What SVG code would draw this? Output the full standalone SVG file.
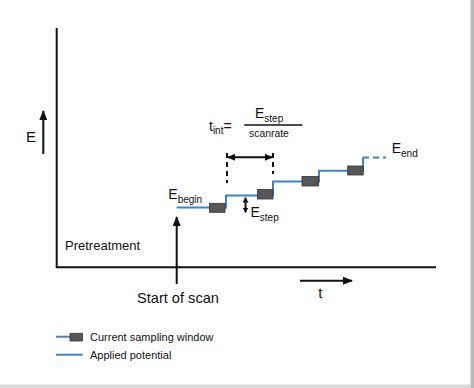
<svg xmlns="http://www.w3.org/2000/svg" width="474" height="388" viewBox="0 0 474 388">
<style>
text{font-family:"Liberation Sans",Arial,sans-serif;fill:#111}
.ax{stroke:#111;stroke-width:2;fill:none}
.blue{stroke:#3a86c8;stroke-width:2;fill:none}
.win{fill:#575757;stroke:#333;stroke-width:0.8}
.dash{stroke:#111;stroke-width:2;stroke-dasharray:5,4;fill:none}
.sub{font-size:10px}
</style>
<defs>
<marker id="ah" viewBox="0 0 10 8" refX="9" refY="4" markerWidth="10" markerHeight="8" markerUnits="userSpaceOnUse" orient="auto-start-reverse"><path d="M0,0 L10,4 L0,8 z" fill="#111"/></marker>
<marker id="ahs" viewBox="0 0 8 7" refX="7" refY="3.5" markerWidth="8" markerHeight="7" markerUnits="userSpaceOnUse" orient="auto-start-reverse"><path d="M0,0 L8,3.5 L0,7 z" fill="#111"/></marker>
<marker id="aht" viewBox="0 0 5 6" refX="5" refY="3" markerWidth="5" markerHeight="6" markerUnits="userSpaceOnUse" orient="auto-start-reverse"><path d="M0,0 L5,3 L0,6 z" fill="#111"/></marker>
</defs>
<rect x="0" y="0" width="474" height="388" fill="#fff"/>
<rect x="470.5" y="0" width="3.5" height="388" fill="#b8b8b8"/>
<rect x="0" y="384.5" width="471" height="3.5" fill="#d9d9d9"/>

<g id="axes">
<path class="ax" d="M56.7,28 V267.3 H436"/>
</g>

<g id="connectors">
<line class="ax" x1="43.3" y1="154" x2="43.3" y2="111" marker-end="url(#ah)"/>
<line class="ax" x1="176.7" y1="284" x2="176.7" y2="217" marker-end="url(#ah)"/>
<line class="ax" x1="300" y1="280.7" x2="352" y2="280.7" marker-end="url(#ah)"/>
<line class="ax" x1="228" y1="157.3" x2="272" y2="157.3" marker-start="url(#ahs)" marker-end="url(#ahs)"/>
<line class="dash" x1="227" y1="153" x2="227" y2="183"/>
<line class="dash" x1="273" y1="153" x2="273" y2="174"/>
<line class="ax" x1="245.5" y1="197.5" x2="245.5" y2="212.5" stroke-width="1.6" marker-start="url(#aht)" marker-end="url(#aht)"/>
</g>

<g id="potential">
<path class="blue" d="M176.7,207.5 H226 V195.5 H273 V181.5 H319 V170.7 H363 V157.5"/>
<path class="blue" d="M363,157.5 H386" stroke-dasharray="6,4"/>
<rect class="win" x="209.5" y="203.3" width="15.5" height="9"/>
<rect class="win" x="257.5" y="189.5" width="15.5" height="9.5"/>
<rect class="win" x="302" y="176.5" width="16.5" height="9.5"/>
<rect class="win" x="347.7" y="166" width="15.5" height="9"/>
</g>

<g id="labels">
<text x="26" y="141.7" font-size="15">E</text>
<text x="65" y="250" font-size="13">Pretreatment</text>
<text x="137" y="302.7" font-size="14.6">Start of scan</text>
<text x="318.3" y="298.3" font-size="15">t</text>
<text x="168.3" y="199" font-size="14">E<tspan class="sub" dy="3.5">begin</tspan></text>
<text x="250.5" y="217" font-size="14">E<tspan class="sub" dy="3.5">step</tspan></text>
<text x="391.7" y="153" font-size="14">E<tspan class="sub" dy="3.5">end</tspan></text>
</g>

<g id="formula">
<text x="209" y="130.7" font-size="14">t<tspan class="sub" dy="3.5">int</tspan><tspan dy="-3.5" font-size="14">=</tspan></text>
<text x="255" y="118" font-size="14">E<tspan class="sub" dy="3.5">step</tspan></text>
<line x1="244.3" y1="125" x2="302.3" y2="125" stroke="#111" stroke-width="1.5"/>
<text x="249" y="137.3" font-size="10.4">scanrate</text>
</g>

<g id="legend">
<line class="blue" x1="56" y1="336.7" x2="70" y2="336.7"/>
<rect class="win" x="70" y="333.3" width="12.5" height="7.7"/>
<text x="90" y="341" font-size="11">Current sampling window</text>
<line class="blue" x1="56" y1="354.7" x2="82.7" y2="354.7"/>
<text x="90" y="359" font-size="11">Applied potential</text>
</g>
</svg>
